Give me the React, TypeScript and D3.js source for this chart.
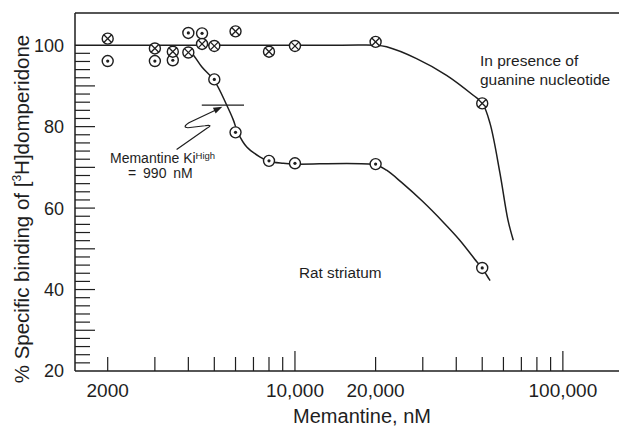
import React from 'react'
import * as d3 from 'd3'

// memantine concentrations (nM) where binding was measured
const concentrations = [2000, 3000, 3500, 4000, 4500, 5000, 6000, 8000, 10000, 20000, 50000]
// crossed circles: with guanine nucleotide
const guanineBinding = [101.6, 99.2, 98.4, 98.2, 100.3, 99.8, 103.4, 98.4, 99.8, 100.8, 85.7]
// dotted circles: rat striatum
const striatumBinding = [96.1, 96.1, 96.3, 103.0, 102.9, 91.6, 78.6, 71.6, 71.0, 70.8, 45.3]

// hand-drawn fitted curves
const guanineCurveX = [1510, 15000, 20000, 21980, 28440, 36810, 46270, 50100, 53470, 58230, 62360, 65300]
const guanineCurveY = [100, 100, 100, 99.6, 96.7, 92.6, 87.7, 85.7, 80.8, 68.6, 57.1, 52.1]
const striatumCurveX = [3950, 4174, 4487, 5000, 5560, 5890, 6115, 6610, 7390, 8000, 9040, 10000, 20000, 21980, 25000, 30000, 35700, 41000, 47640, 50000, 53470]
const striatumCurveY = [99.3, 97.6, 94.7, 91.3, 85.3, 81.6, 78.6, 75.0, 72.6, 71.5, 71.0, 70.8, 70.6, 69.3, 66.3, 61.6, 56.6, 52.3, 46.9, 45.2, 42.2]

const xTickLabels = [
  { v: 2000, t: '2000' },
  { v: 10000, t: '10,000' },
  { v: 20000, t: '20,000' },
  { v: 100000, t: '100,000' },
]
const yTickLabels = [20, 40, 60, 80, 100]

// Ki annotation
const kiBinding = 85.3
const kiFrom = 4490
const kiTo = 6455

const ink = '#1e1e1e'
const font = '"Liberation Sans", Arial, Helvetica, sans-serif'

export default function App() {
  const width = 619
  const height = 427

  const x = d3.scaleLog().domain([1510, 162000]).range([75, 619])
  const y = d3.scaleLinear().domain([20, 107.9]).range([371, 13])

  const xTicks: number[] = []
  for (let v = 2000; v <= 10000; v += 1000) xTicks.push(v)
  for (let v = 20000; v <= 100000; v += 10000) xTicks.push(v)
  const yTicks = d3.range(22, 100, 2)

  const line = d3
    .line<[number, number]>()
    .x((d) => x(d[0]))
    .y((d) => y(d[1]))
    .curve(d3.curveCatmullRom.alpha(0.5))

  const guanineCurve = line(guanineCurveX.map((v, i) => [v, guanineCurveY[i]]))
  const striatumCurve = line(striatumCurveX.map((v, i) => [v, striatumCurveY[i]]))

  const r = 5.5
  const k = r * 0.707

  // arrow pointing at Ki
  const tipX = x(5360)
  const tipY = y(85) + 0.5
  const arrow = `M${tipX - 45.8},${tipY + 42.8} L${tipX - 15.5},${tipY + 21.5} Q${tipX - 8.5},${tipY + 17.5} ${tipX - 17.5},${tipY + 19} L${tipX - 34.5},${tipY + 21} Q${tipX - 40.5},${tipY + 20.5} ${tipX - 33.5},${tipY + 16} L${tipX - 6},${tipY + 2.9}`
  const ang = Math.atan2(-16, 33.5)
  const ah = 9
  const aw = 3.2
  const head = [
    [tipX, tipY],
    [tipX - ah * Math.cos(ang) - aw * Math.sin(ang), tipY - ah * Math.sin(ang) + aw * Math.cos(ang)],
    [tipX - ah * Math.cos(ang) + aw * Math.sin(ang), tipY - ah * Math.sin(ang) - aw * Math.cos(ang)],
  ]
    .map((p) => p.join(','))
    .join(' ')

  return (
    <svg
      width={width}
      height={height}
      style={{ position: 'absolute', left: 0, top: 0, background: '#fff' }}
      fontFamily={font}
    >
      <rect width={width} height={height} fill="#fff" />

      {/* frame */}
      <line x1={75} x2={619} y1={13} y2={13} stroke={ink} strokeWidth={1.5} />
      <line x1={75} x2={75} y1={13} y2={371} stroke={ink} strokeWidth={1.5} />
      <line x1={75} x2={619} y1={371} y2={371} stroke={ink} strokeWidth={1.5} />

      {/* y ticks, pointing inward */}
      {yTicks.map((v) => (
        <line
          key={'yt' + v}
          x1={75}
          x2={v % 10 === 0 ? 95 : 90}
          y1={y(v)}
          y2={y(v)}
          stroke={ink}
          strokeWidth={1.2}
        />
      ))}
      {yTickLabels.map((v) => (
        <text key={'yl' + v} x={64} y={y(v)} dy="0.36em" textAnchor="end" fontSize={18} fill={ink}>
          {v}
        </text>
      ))}

      {/* x ticks, pointing inward */}
      {xTicks.map((v) => (
        <line
          key={'xt' + v}
          x1={x(v)}
          x2={x(v)}
          y1={371}
          y2={v === 10000 || v === 100000 ? 351 : 357}
          stroke={ink}
          strokeWidth={1.2}
        />
      ))}
      {xTickLabels.map((d) => (
        <text key={'xl' + d.v} x={x(d.v)} y={397} textAnchor="middle" fontSize={19} fill={ink}>
          {d.t}
        </text>
      ))}

      <text x={362} y={423} textAnchor="middle" fontSize={20} fill={ink}>
        Memantine, nM
      </text>
      <text transform="translate(29,209) rotate(-90)" textAnchor="middle" fontSize={20.5} fill={ink}>
        % Specific binding of [<tspan fontSize={12} dy={-8}>3</tspan>
        <tspan dy={8}>H]domperidone</tspan>
      </text>

      {/* curves */}
      <path d={guanineCurve ?? ''} fill="none" stroke={ink} strokeWidth={1.5} />
      <path d={striatumCurve ?? ''} fill="none" stroke={ink} strokeWidth={1.5} />

      {/* Ki marker */}
      <line x1={x(kiFrom)} x2={x(kiTo)} y1={y(kiBinding)} y2={y(kiBinding)} stroke={ink} strokeWidth={1.3} />
      <path d={arrow} fill="none" stroke={ink} strokeWidth={1.2} />
      <polygon points={head} fill={ink} />

      {/* points */}
      {concentrations.map((c, i) => (
        <g key={'s' + c} transform={`translate(${x(c)},${y(striatumBinding[i])})`}>
          <circle r={r} fill="#fff" stroke={ink} strokeWidth={1.4} />
          <circle r={1.6} fill={ink} />
        </g>
      ))}
      {concentrations.map((c, i) => (
        <g key={'g' + c} transform={`translate(${x(c)},${y(guanineBinding[i])})`}>
          <circle r={r} fill="#fff" stroke={ink} strokeWidth={1.4} />
          <line x1={-k} y1={-k} x2={k} y2={k} stroke={ink} strokeWidth={1.3} />
          <line x1={-k} y1={k} x2={k} y2={-k} stroke={ink} strokeWidth={1.3} />
        </g>
      ))}

      {/* labels */}
      <text x={110} y={163} fontSize={14} fill={ink}>
        Memantine Ki<tspan fontSize={9.5} dy={-4.5}>High</tspan>
      </text>
      <text x={128} y={177.5} fontSize={14} fill={ink} wordSpacing={3}>
        = 990 nM
      </text>
      <text x={480} y={66} fontSize={15.5} fill={ink}>
        In presence of
      </text>
      <text x={480} y={85} fontSize={15.5} fill={ink}>
        guanine nucleotide
      </text>
      <text x={299} y={278} fontSize={15.3} fill={ink}>
        Rat striatum
      </text>
    </svg>
  )
}
